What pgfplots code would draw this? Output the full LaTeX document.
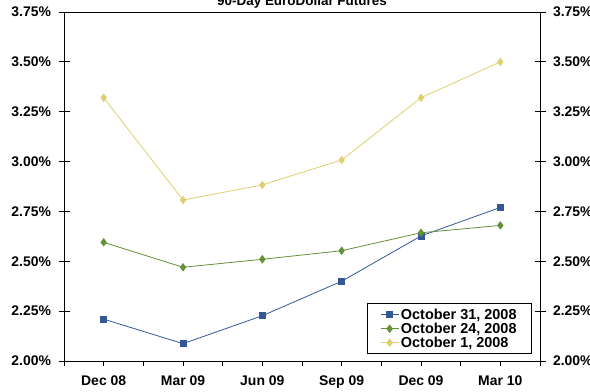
\documentclass[border=0pt]{standalone}
\usepackage{fontspec}
\setmainfont{Liberation Sans}
\usepackage{pgfplots}
\pgfplotsset{compat=1.18}

\definecolor{octthirtyone}{RGB}{52,88,150}
\definecolor{octtwentyfour}{RGB}{98,145,54}
\definecolor{octone}{RGB}{222,208,112}

% Futures rates by contract month (index 0..5 = Dec 08 .. Mar 10)
\pgfplotstableread{
x  oct31  oct24  oct1
0  2.21   2.595  3.32
1  2.087  2.47   2.807
2  2.227  2.51   2.883
3  2.40   2.553  3.008
4  2.627  2.643  3.32
5  2.77   2.68   3.50
}\rates

\pgfplotsset{
  common/.style={
    scale only axis, width=476bp, height=349bp,
    at={(64bp,30bp)}, anchor=south west,
    xmin=-0.5, xmax=5.5, ymin=2, ymax=3.75,
    ytick={2,2.25,...,3.75},
    axis line style={black, line width=0.9pt},
    every tick/.style={black, line width=0.9pt},
    ticklabel style={font=\fontsize{14}{16}\selectfont\bfseries},
    /pgf/number format/assume math mode=true,
    yticklabel={\pgfmathprintnumber[fixed,fixed zerofill,precision=2]{\tick}\%},
  }
}

\begin{document}
\begin{tikzpicture}[x=1bp,y=1bp]
\clip (0,0) rectangle (590,391);

% main axis: box, category ticks, data
\begin{axis}[common,
  xtick={0,...,5},
  xticklabels={Dec 08,Mar 09,Jun 09,Sep 09,Dec 09,Mar 10},
  minor xtick={-0.5,0.5,...,5.5},
  xtick pos=bottom, tick align=outside,
  major tick length=5bp, minor tick length=5bp,
  xticklabel style={yshift=-6bp},
  ytick=\empty,
  legend style={at={(rel axis cs:0.983,0.02)}, anchor=south east,
    draw=black, line width=0.7pt, font=\fontsize{14.5}{15.5}\selectfont\bfseries,
    inner xsep=13bp, inner ysep=3bp, row sep=-2bp,
    nodes={inner xsep=2bp}},
  legend cell align=left,
  legend image post style={xscale=1.05},
]
\addplot[octthirtyone, line width=0.8pt, mark=square*, mark size=3bp,
  mark options={solid}] table[x=x, y=oct31] {\rates};
\addlegendentry{October 31, 2008}
\addplot[octtwentyfour, line width=0.8pt, mark=diamond*, mark size=3.6bp]
  table[x=x, y=oct24] {\rates};
\addlegendentry{October 24, 2008}
\addplot[octone, line width=0.8pt, mark=diamond*, mark size=3.6bp]
  table[x=x, y=oct1] {\rates};
\addlegendentry{October 1, 2008}
\end{axis}

% left percentage scale
\begin{axis}[common,
  hide x axis, axis y line*=left,
  tick align=center, major tick length=11bp,
  yticklabel style={xshift=-4bp},
]
\end{axis}

% right percentage scale
\begin{axis}[common,
  hide x axis, axis y line*=right,
  tick align=center, major tick length=11bp,
  yticklabel style={xshift=4bp},
]
\end{axis}

\node[anchor=base, font=\fontsize{13.5}{15}\selectfont\bfseries]
  at (302,386) {90-Day EuroDollar Futures};
\end{tikzpicture}
\end{document}
